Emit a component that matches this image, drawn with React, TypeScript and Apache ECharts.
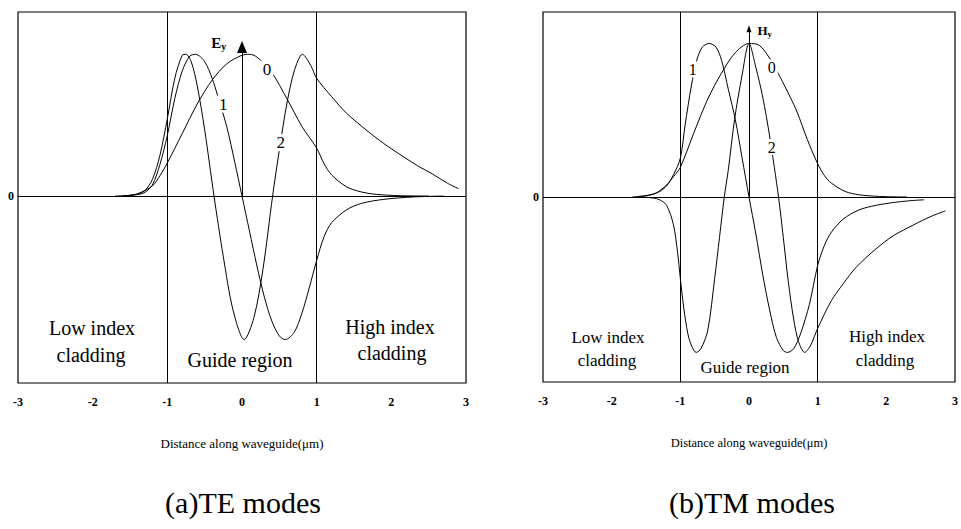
import React, { useEffect, useRef } from "react";
import * as echarts from "echarts";

// ---------- data ----------
const regionBounds = [-1, 1];

// (a) TE modes, field Ey
const teMode0: [number, number][] = [
  [-1.7, 0], [-1.5, 0.004], [-1.4, 0.012], [-1.2, 0.055], [-1.1, 0.11], [-1.0, 0.18],
  [-0.8, 0.34], [-0.6, 0.5], [-0.4, 0.63], [-0.2, 0.72], [0, 0.765], [0.1, 0.77],
  [0.2, 0.755], [0.4, 0.67], [0.6, 0.53], [0.8, 0.38], [1.0, 0.26], [1.1, 0.175],
  [1.2, 0.115], [1.4, 0.05], [1.6, 0.022], [1.8, 0.009], [2.1, 0.002], [2.5, 0],
];
const teMode1: [number, number][] = [
  [-1.6, 0], [-1.4, 0.008], [-1.3, 0.02], [-1.2, 0.06], [-1.1, 0.17], [-1.0, 0.33],
  [-0.9, 0.53], [-0.8, 0.68], [-0.7, 0.76], [-0.62, 0.77], [-0.5, 0.73], [-0.4, 0.64],
  [-0.3, 0.51], [-0.2, 0.37], [-0.1, 0.19], [0, 0], [0.1, -0.19], [0.2, -0.38],
  [0.3, -0.55], [0.4, -0.68], [0.5, -0.76], [0.58, -0.78], [0.7, -0.74], [0.8, -0.64],
  [0.9, -0.5], [1.0, -0.35], [1.1, -0.22], [1.2, -0.145], [1.4, -0.075], [1.6, -0.04],
  [1.9, -0.018], [2.3, -0.005], [2.7, 0],
];
const teMode2: [number, number][] = [
  [-1.6, 0], [-1.4, 0.01], [-1.3, 0.03], [-1.2, 0.09], [-1.1, 0.22], [-1.0, 0.42],
  [-0.9, 0.64], [-0.8, 0.765], [-0.75, 0.77], [-0.68, 0.73], [-0.6, 0.6], [-0.5, 0.36],
  [-0.375, 0], [-0.25, -0.33], [-0.12, -0.62], [0.03, -0.78], [0.16, -0.66], [0.28, -0.4],
  [0.41, 0], [0.5, 0.25], [0.6, 0.5], [0.7, 0.68], [0.81, 0.77], [0.92, 0.71],
  [1.0, 0.64], [1.2, 0.54], [1.4, 0.45], [1.66, 0.36], [1.9, 0.285], [2.1, 0.23],
  [2.35, 0.165], [2.55, 0.12], [2.75, 0.07], [2.9, 0.04],
];

// (b) TM modes, field Hy
const tmMode0: [number, number][] = [
  [-1.7, 0], [-1.5, 0.008], [-1.36, 0.02], [-1.2, 0.065], [-1.1, 0.11], [-1.0, 0.16],
  [-0.8, 0.35], [-0.6, 0.53], [-0.4, 0.67], [-0.2, 0.78], [0, 0.83], [0.15, 0.82],
  [0.3, 0.75], [0.45, 0.65], [0.6, 0.54], [0.7, 0.46], [0.85, 0.31], [1.0, 0.18],
  [1.1, 0.115], [1.2, 0.075], [1.4, 0.03], [1.6, 0.012], [1.9, 0.003], [2.3, 0],
];
const tmMode1: [number, number][] = [
  [-1.6, 0], [-1.45, 0.01], [-1.3, 0.03], [-1.2, 0.06], [-1.1, 0.12], [-1.0, 0.21],
  [-0.93, 0.39], [-0.84, 0.6], [-0.76, 0.74], [-0.68, 0.81], [-0.58, 0.83], [-0.48, 0.81],
  [-0.4, 0.74], [-0.3, 0.58], [-0.2, 0.42], [-0.1, 0.21], [0, 0], [0.1, -0.2],
  [0.2, -0.42], [0.3, -0.61], [0.4, -0.76], [0.5, -0.83], [0.56, -0.84], [0.65, -0.82],
  [0.75, -0.74], [0.88, -0.58], [1.0, -0.37], [1.1, -0.26], [1.2, -0.19], [1.37, -0.12],
  [1.6, -0.07], [1.85, -0.045], [2.1, -0.03], [2.35, -0.02], [2.55, -0.015],
];
const tmMode2: [number, number][] = [
  [-1.6, 0], [-1.4, -0.005], [-1.3, -0.015], [-1.2, -0.045], [-1.1, -0.15], [-1.04, -0.3],
  [-1.0, -0.44], [-0.95, -0.6], [-0.89, -0.74], [-0.83, -0.81], [-0.77, -0.84], [-0.7, -0.82],
  [-0.6, -0.72], [-0.5, -0.44], [-0.43, -0.22], [-0.36, 0], [-0.3, 0.15], [-0.21, 0.42],
  [-0.1, 0.66], [0, 0.83], [0.1, 0.7], [0.2, 0.54], [0.3, 0.33], [0.43, 0],
  [0.5, -0.22], [0.57, -0.45], [0.65, -0.66], [0.72, -0.78], [0.81, -0.84], [0.9, -0.8],
  [1.0, -0.71], [1.2, -0.56], [1.37, -0.47], [1.56, -0.38], [1.85, -0.28], [2.1, -0.21],
  [2.4, -0.15], [2.65, -0.105], [2.86, -0.075],
];

const serif = '"Liberation Serif", "Times New Roman", serif';

function curve(data: [number, number][], idx: number, extra: any = {}) {
  return {
    type: "line",
    xAxisIndex: idx,
    yAxisIndex: idx,
    data,
    smooth: 0.3,
    showSymbol: false,
    symbol: "none",
    silent: true,
    lineStyle: { color: "#000", width: 1 },
    z: 2,
    ...extra,
  };
}

function tags(items: any[], fontSize: number) {
  return {
    silent: true,
    symbol: "circle",
    symbolSize: 0.1,
    itemStyle: { color: "rgba(0,0,0,0)" },
    label: {
      show: true,
      position: "inside",
      formatter: "{b}",
      color: "#000",
      fontFamily: serif,
      fontSize,
      backgroundColor: "#fff",
      padding: [0, 2],
    },
    data: items,
    z: 5,
  };
}

function guides(arrowTop: number, arrowSize: number[]) {
  return {
    silent: true,
    symbol: "none",
    lineStyle: { color: "#000", width: 1, type: "solid" },
    label: { show: false },
    data: [
      ...regionBounds.map((b) => ({ xAxis: b })),
      { yAxis: 0 },
      [
        { coord: [0, 0], symbol: "none" },
        { coord: [0, arrowTop], symbol: "triangle", symbolSize: arrowSize },
      ],
    ],
  };
}

export default function App() {
  const ref = useRef<HTMLDivElement>(null);
  useEffect(() => {
    const chart = echarts.init(ref.current!, null, { renderer: "svg" });
    const axisLabel = {
      color: "#000",
      fontFamily: serif,
      fontWeight: "bold",
      fontSize: 12,
      margin: 13,
    };
    const xAxisCommon = {
      type: "value",
      min: -3,
      max: 3,
      interval: 1,
      axisLine: { show: false },
      axisTick: { show: false },
      splitLine: { show: false },
      axisLabel,
      name: "Distance along waveguide(μm)",
      nameLocation: "middle",
      nameGap: 54,
      nameTextStyle: { color: "#000", fontFamily: serif, fontSize: 13 },
    };
    const yAxisCommon = {
      type: "value",
      axisLine: { show: false },
      axisTick: { show: false },
      splitLine: { show: false },
      axisLabel: {
        color: "#000",
        fontFamily: serif,
        fontWeight: "bold",
        fontSize: 12,
        margin: 4,
        formatter: (v: number) => (v === 0 ? "0" : ""),
      },
    };
    const regionText = (x: number, y: number, text: string, size: number) => ({
      type: "text",
      x,
      y,
      style: {
        text,
        fontFamily: serif,
        fontSize: size,
        fill: "#000",
        align: "center",
        verticalAlign: "middle",
      },
      z: 10,
    });

    const option: any = {
      animation: false,
      backgroundColor: "#fff",
      grid: [
        { left: 18, top: 12, width: 448, height: 371, show: true, borderColor: "#000", borderWidth: 1.2, backgroundColor: "transparent" },
        { left: 543, top: 12, width: 415, height: 370, show: true, borderColor: "#000", borderWidth: 1.2, backgroundColor: "transparent" },
      ],
      xAxis: [
        { ...xAxisCommon, gridIndex: 0 },
        { ...xAxisCommon, gridIndex: 1, nameTextStyle: { color: "#000", fontFamily: serif, fontSize: 12.5 } },
      ],
      yAxis: [
        { ...yAxisCommon, gridIndex: 0, min: -1.016, max: 1 },
        { ...yAxisCommon, gridIndex: 1, min: -1, max: 1 },
      ],
      series: [
        curve(teMode0, 0, {
          markLine: guides(0.81, [10, 12]),
          markPoint: tags(
            [
              { name: "0", coord: [0.335, 0.69] },
              { name: "1", coord: [-0.25, 0.5] },
              { name: "2", coord: [0.52, 0.29] },
              {
                name: "Ey",
                coord: [-0.31, 0.83],
                label: {
                  formatter: "{e|E}{s|y}",
                  backgroundColor: "transparent",
                  rich: {
                    e: { fontFamily: serif, fontWeight: "bold", fontSize: 15, color: "#000" },
                    s: { fontFamily: serif, fontWeight: "bold", fontSize: 10, color: "#000", padding: [7, 0, 0, 0] },
                  },
                },
              },
            ],
            17
          ),
        }),
        curve(teMode1, 0),
        curve(teMode2, 0),
        curve(tmMode0, 1, {
          markLine: guides(0.91, [5, 7]),
          markPoint: tags(
            [
              { name: "1", coord: [-0.82, 0.69] },
              { name: "0", coord: [0.33, 0.7] },
              { name: "2", coord: [0.33, 0.27] },
              {
                name: "Hy",
                coord: [0.23, 0.9],
                label: {
                  formatter: "{e|H}{s|y}",
                  backgroundColor: "transparent",
                  rich: {
                    e: { fontFamily: serif, fontWeight: "bold", fontSize: 13, color: "#000" },
                    s: { fontFamily: serif, fontWeight: "bold", fontSize: 9, color: "#000", padding: [6, 0, 0, 0] },
                  },
                },
              },
            ],
            16
          ),
        }),
        curve(tmMode1, 1),
        curve(tmMode2, 1),
      ],
      graphic: [
        regionText(92, 328, "Low index", 20),
        regionText(91, 355, "cladding", 20),
        regionText(240, 360, "Guide region", 20),
        regionText(390, 327, "High index", 20),
        regionText(392, 353, "cladding", 20),
        regionText(608, 337, "Low index", 17),
        regionText(607, 360, "cladding", 17),
        regionText(745, 367, "Guide region", 17),
        regionText(887, 336, "High index", 17),
        regionText(885, 360, "cladding", 17),
        regionText(243, 502, "(a)TE modes", 30),
        regionText(752, 502, "(b)TM modes", 30),
      ],
    };
    chart.setOption(option);
    return () => chart.dispose();
  }, []);
  return (
    <div
      ref={ref}
      style={{ position: "fixed", left: 0, top: 0, width: 961, height: 529, background: "#fff" }}
    />
  );
}
